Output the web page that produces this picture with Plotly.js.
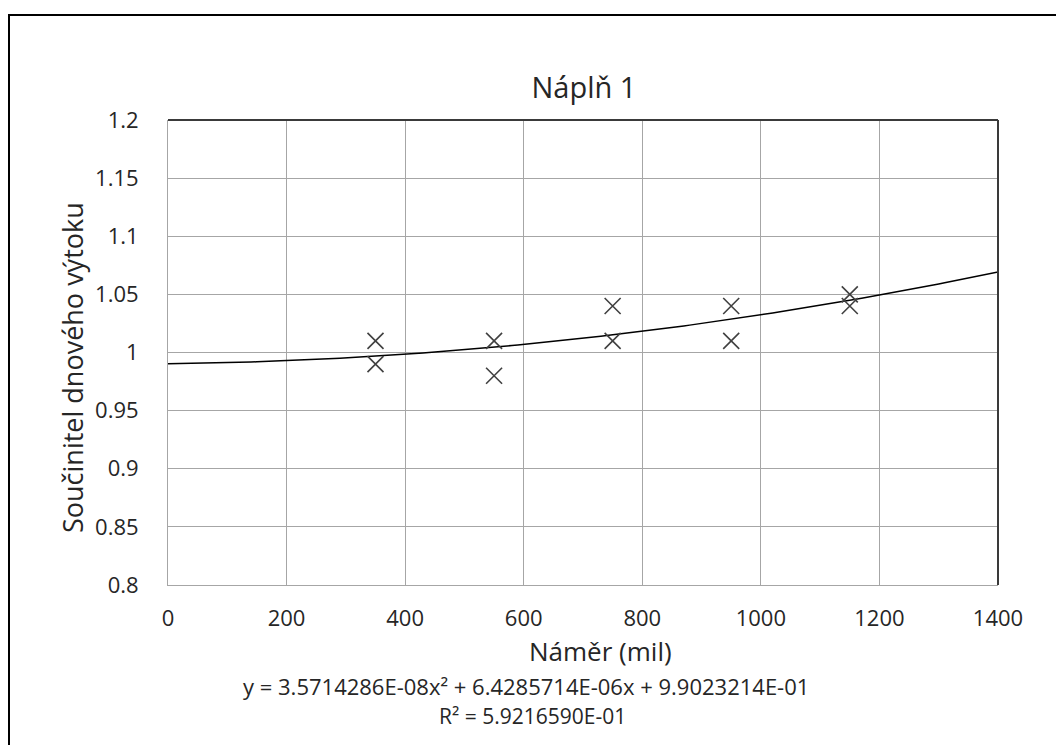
<!DOCTYPE html>
<html>
<head>
<meta charset="utf-8">
<script src="https://cdn.plot.ly/plotly-3.0.1.min.js"></script>
<style>
html,body{margin:0;padding:0;background:#fff;}
#chart{width:1056px;height:745px;}
</style>
</head>
<body>
<div id="chart"></div>
<script>
// Data
const namerX = [350, 350, 550, 550, 750, 750, 950, 950, 1150, 1150];
const soucinitelY = [1.01, 0.99, 1.01, 0.98, 1.04, 1.01, 1.04, 1.01, 1.05, 1.04];
const chartTitle = "Náplň 1";
const xTitle = "Náměr (mil)";
const yTitle = "Součinitel dnového výtoku";
const equationText = "y = 3.5714286E-08x² + 6.4285714E-06x + 9.9023214E-01";
const r2Text = "R² = 5.9216590E-01";
const xTicks = [0, 200, 400, 600, 800, 1000, 1200, 1400];
const yTicks = [0.8, 0.85, 0.9, 0.95, 1, 1.05, 1.1, 1.15, 1.2];

// Least squares quadratic trendline (as a spreadsheet would compute)
function quadFit(xs, ys) {
  let S = [0,0,0,0,0], T = [0,0,0];
  for (let i = 0; i < xs.length; i++) {
    let p = 1;
    for (let k = 0; k < 5; k++) { S[k] += p; if (k < 3) T[k] += p * ys[i]; p *= xs[i]; }
  }
  const A = [[S[0],S[1],S[2],T[0]],[S[1],S[2],S[3],T[1]],[S[2],S[3],S[4],T[2]]];
  for (let c = 0; c < 3; c++) {
    for (let r = c + 1; r < 3; r++) {
      const f = A[r][c] / A[c][c];
      for (let k = c; k < 4; k++) A[r][k] -= f * A[c][k];
    }
  }
  const b = [0,0,0];
  for (let r = 2; r >= 0; r--) {
    let s = A[r][3];
    for (let k = r + 1; k < 3; k++) s -= A[r][k] * b[k];
    b[r] = s / A[r][r];
  }
  return b; // c0, c1, c2
}
const coef = quadFit(namerX, soucinitelY);
const trendX = [], trendY = [];
for (let x = 0; x <= 1400; x += 10) {
  trendX.push(x);
  trendY.push(coef[0] + coef[1] * x + coef[2] * x * x);
}

const FONT = "Open Sans, Segoe UI, sans-serif";
const TXT = "#262626";
const L = 168, R = 998, T = 120, B = 585, W = 1056, H = 745;
const px = v => (v - L) / (R - L);
const py = v => (B - v) / (B - T);

const traces = [
  {
    x: trendX, y: trendY, mode: "lines", type: "scatter",
    line: {color: "#000000", width: 1.5}, hoverinfo: "skip", showlegend: false
  },
  {
    x: namerX, y: soucinitelY, mode: "markers", type: "scatter",
    marker: {symbol: "x-thin-open", size: 16, color: "#404040", line: {color: "#404040", width: 1.6}},
    showlegend: false
  }
];

const ann = (text, x, y, size, extra) => Object.assign({
  text, xref: "paper", yref: "paper", x: px(x), y: py(y), xanchor: "center", yanchor: "middle",
  showarrow: false, borderpad: 0, borderwidth: 0, font: {family: FONT, size, color: TXT}
}, extra || {});

const layout = {
  width: W, height: H,
  margin: {l: L, r: W - R, t: T, b: H - B},
  paper_bgcolor: "#ffffff", plot_bgcolor: "#ffffff",
  font: {family: FONT, color: TXT, size: 22},
  showlegend: false,
  title: {text: chartTitle, font: {family: FONT, size: 29, color: TXT}, xref: "container", x: 584 / W, xanchor: "center", yref: "container", y: 1 - 88 / H, yanchor: "middle"},
  xaxis: {
    range: [0, 1400], tickvals: xTicks, ticktext: xTicks.map(String),
    showgrid: true, gridcolor: "#a6a6a6", gridwidth: 1,
    zeroline: false, showline: true, linecolor: "#a6a6a6", linewidth: 1,
    ticks: "", ticklabelstandoff: 14,
    tickfont: {family: FONT, size: 22, color: TXT},
    title: {text: ""}
  },
  yaxis: {
    range: [0.8, 1.2], tickvals: yTicks, ticktext: yTicks.map(v => String(v)),
    showgrid: true, gridcolor: "#a6a6a6", gridwidth: 1,
    zeroline: false, showline: true, linecolor: "#a6a6a6", linewidth: 1,
    ticks: "", ticklabelstandoff: 24,
    tickfont: {family: FONT, size: 22, color: TXT},
    title: {text: ""}
  },
  shapes: [
    {type: "line", xref: "paper", yref: "paper", x0: 0, x1: 1, y0: 1, y1: 1, line: {color: "#3a3a3a", width: 2}},
    {type: "line", xref: "paper", yref: "paper", x0: 1, x1: 1, y0: 0, y1: 1, line: {color: "#3a3a3a", width: 2}},
    {type: "line", xref: "paper", yref: "paper", x0: px(9), x1: px(9), y0: py(14), y1: py(760), line: {color: "#000000", width: 2}},
    {type: "line", xref: "paper", yref: "paper", x0: px(8), x1: px(1060), y0: py(15), y1: py(15), line: {color: "#000000", width: 2}}
  ],
  annotations: [
    ann(xTitle, 600, 651, 26),
    ann(yTitle, 72, 368, 27, {textangle: -90}),
    ann(equationText, 526, 686, 22),
    ann(r2Text, 532, 716, 21)
  ]
};

Plotly.newPlot("chart", traces, layout, {displayModeBar: false, staticPlot: true});
</script>
</body>
</html>
